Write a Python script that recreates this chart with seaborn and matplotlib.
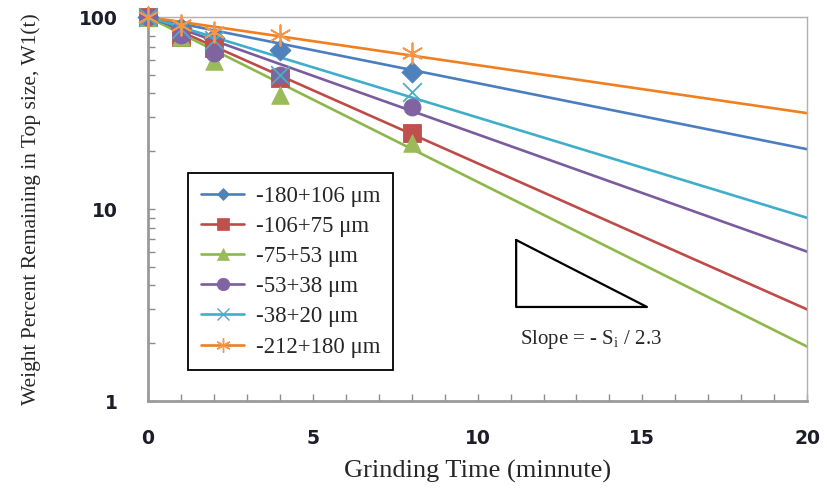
import numpy as np
import pandas as pd
import matplotlib
matplotlib.use("Agg")
import matplotlib.pyplot as plt
from matplotlib.lines import Line2D
from matplotlib.ticker import FixedLocator, NullFormatter
import seaborn as sns

# Size fractions and their measured weight remaining in the top size (%)
size_classes = ["-180+106 \u03bcm", "-106+75 \u03bcm", "-75+53 \u03bcm",
                "-53+38 \u03bcm", "-38+20 \u03bcm", "-212+180 \u03bcm"]
times = [0, 1, 2, 4, 8]
w_180_106 = [100, 88, 78, 67, 52]
w_106_75 = [100, 79, 69, 48, 25]
w_75_53 = [100, 79, 59, 39.5, 22]
w_53_38 = [100, 81, 65, 50, 34]
w_38_20 = [100, 87, 76, 50, 40.5]
w_212_180 = [100, 91, 84, 80.5, 65]

# First-order fitted lines: value at t = 0 and at t = 20 minutes
fit_times = [0, 20]
fit_start = [100, 100, 100, 100, 100, 100]
fit_end = [20.5, 3.0, 1.92, 6.0, 9.0, 31.6]

measured = [w_180_106, w_106_75, w_75_53, w_53_38, w_38_20, w_212_180]
colors = ["#4F81BD", "#C0504D", "#9BBB59", "#8064A2", "#4BACC6", "#F79646"]
line_colors = ["#4A7EC0", "#BE4B48", "#8DB64C", "#7A5C9E", "#3FAECB", "#F07F20"]
markers = ["D", "s", "^", "o", "x", (6, 2, 0)]
msizes = [115, 150, 160, 150, 180, 220]

sns.set_style("white")
plt.rcParams["font.family"] = ["DejaVu Sans"]
plt.rcParams["mathtext.fontset"] = "custom"
plt.rcParams["mathtext.rm"] = "Liberation Serif"
serif = ["Liberation Serif", "DejaVu Serif"]

fig = plt.figure(figsize=(8.27, 4.96), dpi=100)
ax = fig.add_axes([0.179, 0.1915, 0.797, 0.774])

rows = []
for name, vals in zip(size_classes, measured):
    for t, v in zip(times, vals):
        rows.append({"size": name, "time": t, "weight": v})
df = pd.DataFrame(rows)

fits = pd.DataFrame({
    "size": np.repeat(size_classes, 2),
    "time": fit_times * len(size_classes),
    "weight": [v for pair in zip(fit_start, fit_end) for v in pair],
})

for name, c in zip(size_classes, line_colors):
    sns.lineplot(data=fits[fits["size"] == name], x="time", y="weight",
                 color=c, linewidth=1.9, ax=ax, legend=False, zorder=2)

for name, c, m, s in zip(size_classes, colors, markers, msizes):
    sub = df[df["size"] == name]
    filled = m in ("D", "s", "^", "o")
    if filled:
        sns.scatterplot(data=sub, x="time", y="weight", marker=m, color=c,
                        s=s, edgecolor=c, linewidth=0.6, ax=ax, zorder=3,
                        clip_on=False, legend=False)
    else:
        sns.scatterplot(data=sub, x="time", y="weight", marker=m, color=c,
                        s=s, linewidth=1.3, ax=ax, zorder=3,
                        clip_on=False, legend=False)

ax.set_yscale("log")
ax.set_xlim(0, 20)
ax.set_ylim(1, 100)
ax.set_xticks([0, 5, 10, 15, 20])
ax.set_xticklabels(["0", "5", "10", "15", "20"])
ax.xaxis.set_minor_locator(FixedLocator(range(0, 21)))
ax.set_yticks([1, 10, 100])
ax.set_yticklabels(["1", "10", "100"])
ax.yaxis.set_minor_locator(FixedLocator(
    [k * 10 ** d for d in range(0, 2) for k in range(2, 10)]))
ax.yaxis.set_minor_formatter(NullFormatter())

ax.tick_params(axis="both", which="both", direction="in", length=5,
               width=1.0, color="#8c8c8c", labelsize=13.5,
               labelcolor="#1c1c2a", bottom=True, left=True,
               top=False, right=False)
ax.tick_params(axis="x", which="both", pad=20)
ax.tick_params(axis="y", which="both", pad=22)
for lab in ax.get_xticklabels() + ax.get_yticklabels():
    lab.set_fontweight("bold")

for side in ["left", "bottom"]:
    ax.spines[side].set_color("#9a9a9a")
    ax.spines[side].set_linewidth(2.0)
for side in ["top", "right"]:
    ax.spines[side].set_color("#b0b0b0")
    ax.spines[side].set_linewidth(1.0)

ax.set_xlabel("Grinding Time (minnute)", fontsize=19, family=serif,
              labelpad=9)
ax.set_ylabel("Weight Percent Remaining in Top size, W1(t)", fontsize=15.5,
              family=serif, labelpad=27)

# Slope triangle with annotation
tri_x = [11.17, 11.17, 15.14, 11.17]
tri_y = [6.9, 3.09, 3.09, 6.9]
ax.plot(tri_x, tri_y, color="black", linewidth=1.6, zorder=4)
ax.text(13.45, 2.08, r"Slope = - S$_\mathregular{i}$ / 2.3", ha="center",
        va="center", fontsize=15, family=serif)

handles = [Line2D([0], [0], color=lc, marker=m, markersize=ms,
                  markerfacecolor=c,
                  markeredgewidth=1.0 if m in ("x", (6, 2, 0)) else 0.5,
                  markeredgecolor=c, linewidth=1.9)
           for c, lc, m, ms in zip(colors, line_colors, markers,
                                   [6.5, 8.5, 8.5, 9, 9, 10.5])]
leg = ax.legend(handles, size_classes, loc="upper left",
                bbox_to_anchor=(0.061, 0.594),
                prop={"family": serif, "size": 16.5},
                frameon=True, fancybox=False, framealpha=1, edgecolor="black",
                handlelength=1.9, handletextpad=0.5, labelspacing=0.4,
                borderpad=0.55, borderaxespad=0)
leg.get_frame().set_linewidth(1.3)

fig.savefig("out.png", dpi=100)
